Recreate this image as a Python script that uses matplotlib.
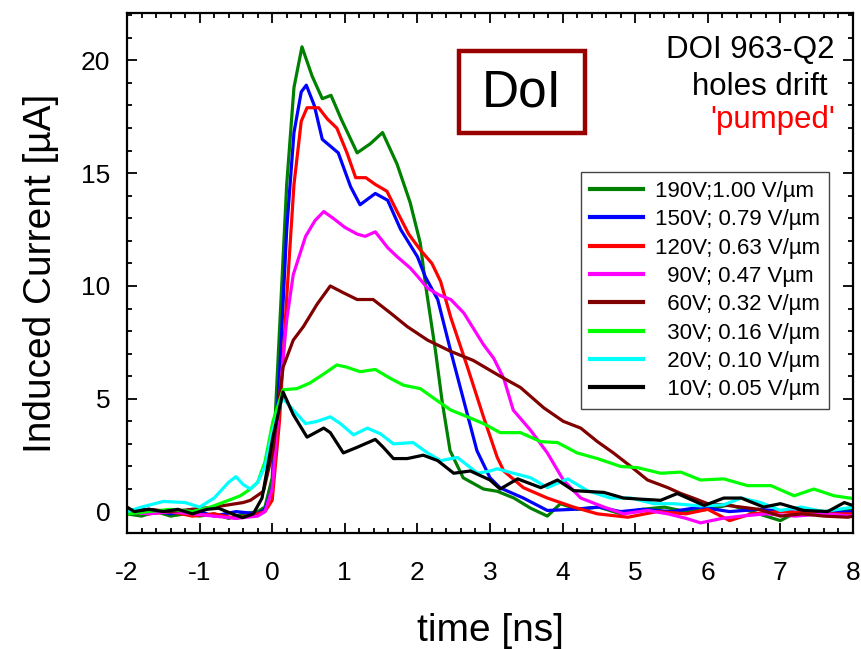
import matplotlib
matplotlib.use("Agg")
import matplotlib.pyplot as plt
from matplotlib.patches import Rectangle
from matplotlib.ticker import MultipleLocator

plt.rcParams['font.family'] = ['Liberation Sans', 'DejaVu Sans']
plt.rcParams['axes.unicode_minus'] = False

t_190 = [-2, -1.8, -1.6, -1.4, -1.2, -1.0, -0.8, -0.6, -0.4, -0.2, -0.1, 0, 0.1, 0.2, 0.3, 0.41, 0.55,
         0.69, 0.81, 0.95, 1.17, 1.35, 1.52, 1.72, 1.9, 2.04, 2.11, 2.25, 2.34, 2.45, 2.63, 2.91, 3.1,
         3.33, 3.56, 3.79, 3.97, 4.2, 4.5, 4.8, 5.1, 5.4, 5.7, 6.0, 6.3, 6.6, 7.0, 7.3, 7.6, 8.0]
i_190 = [-0.1, -0.2, 0.0, -0.2, -0.1, -0.2, -0.1, -0.3, -0.1, 0.0, 0.2, 1.5, 8.0, 14.5, 18.8, 20.6, 19.3,
         18.3, 18.45, 17.4, 15.9, 16.3, 16.8, 15.4, 13.7, 11.9, 10.1, 7.1, 4.9, 2.7, 1.5, 1.0, 0.9,
         0.6, 0.15, -0.2, 0.35, 0.1, 0.2, -0.1, 0.1, 0.2, 0.0, 0.1, 0.3, 0.0, -0.4, 0.1, 0.0, 0.1]

t_150 = [-2, -1.7, -1.4, -1.1, -0.8, -0.5, -0.2, -0.1, 0, 0.1, 0.2, 0.3, 0.4, 0.47, 0.58, 0.69, 0.8, 0.91,
         1.08, 1.21, 1.42, 1.59, 1.77, 2.0, 2.11, 2.28, 2.46, 2.64, 2.82, 3.0, 3.14, 3.46, 3.79, 4.15,
         4.5, 4.8, 5.1, 5.5, 5.9, 6.3, 6.7, 7.1, 7.5, 8.0]
i_150 = [0.0, 0.1, -0.1, 0.1, -0.2, 0.0, -0.1, 0.1, 1.0, 6.0, 12.5, 16.8, 18.6, 18.9, 18.0, 16.5, 16.2, 15.9,
         14.4, 13.6, 14.1, 13.8, 12.5, 11.3, 10.4, 9.4, 7.1, 4.9, 2.7, 1.5, 1.05, 0.6, 0.05, 0.1,
         0.2, 0.0, 0.1, 0.0, 0.2, 0.0, 0.1, 0.0, -0.1, 0.0]

t_120 = [-2, -1.7, -1.4, -1.1, -0.8, -0.5, -0.2, -0.1, 0, 0.1, 0.2, 0.3, 0.4, 0.48, 0.64, 0.76, 0.89, 1.03,
         1.15, 1.29, 1.42, 1.58, 1.72, 1.88, 2.04, 2.2, 2.32, 2.46, 2.69, 2.91, 3.1, 3.19, 3.46, 3.79,
         4.15, 4.48, 4.9, 5.3, 5.7, 6.0, 6.3, 6.6, 7.0, 7.5, 8.0]
i_120 = [0.1, -0.1, 0.0, -0.2, -0.1, -0.3, -0.1, 0.0, 0.5, 4.0, 9.5, 14.5, 17.3, 17.9, 17.9, 17.4, 17.0, 15.9,
         14.8, 14.8, 14.5, 14.2, 13.3, 12.3, 11.6, 11.0, 10.2, 8.6, 6.4, 4.2, 2.4, 1.8, 1.06, 0.6,
         0.2, -0.1, -0.25, 0.0, -0.1, 0.1, -0.4, -0.1, 0.0, -0.1, -0.1]

t_90 = [-2, -1.7, -1.4, -1.1, -0.8, -0.5, -0.2, -0.1, 0, 0.1, 0.2, 0.29, 0.46, 0.59, 0.71, 0.84, 1.0, 1.17,
        1.28, 1.42, 1.59, 1.72, 1.9, 2.01, 2.14, 2.3, 2.46, 2.64, 2.91, 3.05, 3.19, 3.32, 3.56, 3.79,
        4.01, 4.25, 4.57, 4.84, 5.17, 5.45, 5.7, 5.9, 6.2, 6.46, 6.8, 7.2, 7.6, 8.0]
i_90 = [0.0, -0.1, 0.0, -0.1, -0.2, -0.3, -0.2, 0.0, 1.0, 5.0, 8.5, 10.5, 12.2, 12.9, 13.3, 13.0, 12.6, 12.3,
        12.2, 12.4, 11.7, 11.3, 10.8, 10.4, 9.9, 9.6, 9.4, 8.8, 7.4, 6.8, 5.9, 4.5, 3.6, 2.6,
        1.4, 0.6, 0.2, -0.1, 0.05, -0.1, -0.3, -0.5, -0.3, -0.2, -0.1, -0.2, -0.1, -0.2]

t_60 = [-2, -1.7, -1.4, -1.1, -0.8, -0.6, -0.4, -0.3, -0.12, 0.01, 0.15, 0.29, 0.43, 0.62, 0.8, 0.98, 1.17,
        1.39, 1.63, 1.86, 2.14, 2.46, 2.77, 3.14, 3.42, 3.74, 4.01, 4.25, 4.48, 4.7, 4.94, 5.17, 5.45,
        5.63, 5.8, 6.0, 6.2, 6.46, 6.7, 7.0, 7.3, 7.6, 7.93, 8.0]
i_60 = [0.0, 0.1, 0.0, 0.1, 0.2, 0.3, 0.4, 0.5, 0.9, 2.7, 6.4, 7.6, 8.2, 9.2, 10.0, 9.7, 9.4,
        9.4, 8.8, 8.2, 7.6, 7.1, 6.7, 6.0, 5.5, 4.6, 4.0, 3.7, 3.1, 2.6, 2.0, 1.4, 1.06,
        0.8, 0.6, 0.35, 0.3, 0.2, 0.1, -0.2, -0.1, -0.2, -0.25, -0.2]

t_30 = [-2, -1.7, -1.4, -1.1, -0.85, -0.6, -0.44, -0.3, -0.2, -0.1, 0.01, 0.15, 0.34, 0.52, 0.71, 0.89, 1.03,
        1.21, 1.42, 1.63, 1.81, 2.04, 2.28, 2.46, 2.69, 2.91, 3.14, 3.42, 3.7, 3.93, 4.2, 4.48, 4.8,
        5.03, 5.35, 5.63, 5.9, 6.22, 6.55, 6.87, 7.19, 7.46, 7.74, 8.0]
i_30 = [-0.1, 0.0, 0.1, 0.0, 0.2, 0.5, 0.7, 1.0, 1.3, 2.2, 4.0, 5.4, 5.45, 5.7, 6.1, 6.5, 6.4,
        6.2, 6.3, 5.9, 5.6, 5.45, 4.9, 4.5, 4.2, 3.9, 3.5, 3.5, 3.1, 3.06, 2.6, 2.35, 2.0,
        1.95, 1.7, 1.75, 1.4, 1.45, 1.15, 1.15, 0.7, 1.0, 0.7, 0.58]

t_20 = [-2, -1.8, -1.5, -1.2, -1.0, -0.8, -0.6, -0.5, -0.4, -0.3, -0.2, -0.1, 0.0, 0.14, 0.29, 0.46, 0.62,
        0.8, 0.94, 1.12, 1.31, 1.49, 1.67, 1.94, 2.14, 2.32, 2.55, 2.83, 3.0, 3.1, 3.32, 3.56, 3.79,
        4.07, 4.34, 4.66, 4.94, 5.26, 5.53, 5.9, 6.22, 6.46, 6.73, 7.0, 7.28, 7.6, 8.0]
i_20 = [0.0, 0.2, 0.45, 0.4, 0.2, 0.6, 1.3, 1.55, 1.2, 1.0, 1.3, 2.0, 3.5, 5.05, 4.5, 3.9, 4.0,
        4.2, 3.9, 3.4, 3.7, 3.45, 3.0, 3.06, 2.6, 2.26, 2.4, 1.7, 1.8, 1.9, 1.7, 1.5, 1.06,
        1.45, 0.93, 0.6, 0.6, 0.35, 0.35, 0.25, 0.3, 0.6, 0.4, 0.05, 0.2, 0.0, 0.2]

t_10 = [-2, -1.9, -1.7, -1.5, -1.3, -1.1, -0.9, -0.74, -0.55, -0.41, -0.26, -0.14, 0.01, 0.15, 0.29, 0.48,
        0.71, 0.8, 0.98, 1.17, 1.42, 1.53, 1.67, 1.86, 2.08, 2.28, 2.5, 2.73, 3.0, 3.14, 3.38, 3.7,
        3.93, 4.15, 4.57, 4.84, 5.08, 5.35, 5.58, 5.95, 6.22, 6.46, 6.77, 7.0, 7.32, 7.65, 7.88, 8.0]
i_10 = [0.2, 0.0, 0.1, 0.0, 0.1, -0.1, 0.1, 0.15, -0.1, -0.27, -0.1, 0.6, 3.3, 5.3, 4.3, 3.3,
        3.7, 3.5, 2.6, 2.85, 3.2, 2.85, 2.35, 2.35, 2.5, 2.26, 1.7, 1.8, 1.4, 1.0, 1.45, 1.06,
        1.4, 0.93, 0.85, 0.6, 0.55, 0.5, 0.8, 0.27, 0.6, 0.6, 0.2, 0.35, 0.05, 0.0, 0.4, 0.27]

labels = ["190V;1.00 V/\u00b5m", "150V; 0.79 V/\u00b5m", "120V; 0.63 V/\u00b5m", "  90V; 0.47 V\u00b5m",
          "  60V; 0.32 V/\u00b5m", "  30V; 0.16 V/\u00b5m", "  20V; 0.10 V/\u00b5m", "  10V; 0.05 V/\u00b5m"]
colors = ['#008000', '#0000ff', '#ff0000', '#ff00ff', '#800000', '#00ff00', '#00ffff', '#000000']
traces = [(t_190, i_190), (t_150, i_150), (t_120, i_120), (t_90, i_90),
          (t_60, i_60), (t_30, i_30), (t_20, i_20), (t_10, i_10)]

fig = plt.figure(figsize=(8.61, 6.49), dpi=100)
ax = fig.add_axes([0.1475, 0.1787, 0.8432, 0.8013])

for (t, i), c, lab in zip(traces, colors, labels):
    ax.plot(t, i, color=c, lw=2.3, label=lab, solid_joinstyle='round')

ax.set_xlim(-2, 8)
ax.set_ylim(-0.95, 22.1)
ax.xaxis.set_major_locator(MultipleLocator(1))
ax.xaxis.set_minor_locator(MultipleLocator(0.2))
ax.yaxis.set_major_locator(MultipleLocator(5))
ax.yaxis.set_minor_locator(MultipleLocator(1))
ax.tick_params(which='both', direction='in', top=True, right=True, width=1.3)
ax.tick_params(which='major', length=7, labelsize=19)
ax.tick_params(which='minor', length=3.5)
ax.tick_params(axis='x', pad=20)
ax.tick_params(axis='y', pad=12)
for s in ax.spines.values():
    s.set_linewidth(1.6)

ax.set_xlabel("time [ns]", fontsize=28, labelpad=20)
ax.set_ylabel("Induced Current [\u00b5A]", fontsize=28, labelpad=16)

leg = ax.legend(loc='upper left', bbox_to_anchor=(581 / 861, 1 - 172 / 649),
                bbox_transform=fig.transFigure, borderaxespad=0, fontsize=16,
                handlelength=2.4, labelspacing=0.33, fancybox=False, framealpha=1,
                edgecolor='#444444', borderpad=0.4, handletextpad=0.55)
leg.get_frame().set_linewidth(1.0)
for ln in leg.get_lines():
    ln.set_linewidth(3)

# annotation box and sample text
fig.patches.append(Rectangle((459 / 861, 1 - 133 / 649), 126 / 861, 82 / 649,
                             transform=fig.transFigure, fill=False, ec='#990000', lw=3.2))
fig.text(522 / 861, 1 - 93 / 649, "DoI", fontsize=37, ha='center', va='center')
fig.text(835 / 861, 1 - 50 / 649, "DOI 963-Q2", fontsize=22.5, ha='right', va='center')
fig.text(828 / 861, 1 - 87 / 649, "holes drift", fontsize=22.5, ha='right', va='center')
fig.text(835 / 861, 1 - 120 / 649, "'pumped'", fontsize=22.5, ha='right', va='center', color='#ff0000')

fig.savefig("out.png", dpi=100)
